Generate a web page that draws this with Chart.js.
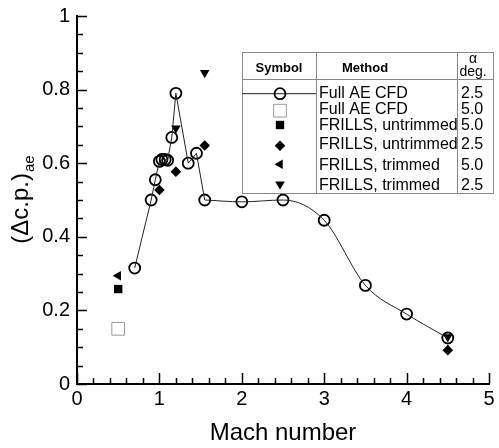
<!DOCTYPE html>
<html>
<head>
<meta charset="utf-8">
<script src="https://cdn.jsdelivr.net/npm/chart.js@4.4.1/dist/chart.umd.min.js"></script>
<style>
  html, body { margin: 0; padding: 0; background: #fff; }
  #wrap { width: 499px; height: 448px; position: relative; }
</style>
</head>
<body>
<div id="wrap"><canvas id="chart" width="499" height="448"></canvas></div>
<script>
/* ── Delta c.p. vs Mach number, Full AE CFD vs FRILLS ── */
const FONT = "'Liberation Sans', Arial, Helvetica, sans-serif";

// Full AE CFD, alpha 2.5 (circles + line)
const cfdMach25 = [0.7, 0.9, 0.95, 1.0, 1.03, 1.07, 1.1, 1.15, 1.2, 1.35, 1.45, 1.55, 2.0, 2.5, 3.0, 3.5, 4.0, 4.5];
const cfdDcp25  = [0.315, 0.5, 0.555, 0.605, 0.61, 0.61, 0.608, 0.67, 0.79, 0.6, 0.627, 0.5, 0.495, 0.5, 0.445, 0.268, 0.19, 0.125];
const SPLIT = 11; // straight segments up to M=1.55, smooth curve after

// Full AE CFD, alpha 5.0 (open square)
const cfdMach50 = [0.5];
const cfdDcp50  = [0.15];
// FRILLS untrimmed
const untrimMach50 = [0.5];
const untrimDcp50  = [0.258];
const untrimMach25 = [1.0, 1.2, 1.55, 4.5];
const untrimDcp25  = [0.527, 0.577, 0.648, 0.092];
// FRILLS trimmed
const trimMach50 = [0.5];
const trimDcp50  = [0.294];
const trimMach25 = [1.2, 1.55, 4.5];
const trimDcp25  = [0.695, 0.846, 0.128];

const xTicks = [0, 1, 2, 3, 4, 5];
const yTicks = [0, 0.2, 0.4, 0.6, 0.8, 1];

const legendMethods = ['Full AE CFD', 'Full AE CFD', 'FRILLS, untrimmed', 'FRILLS, untrimmed', 'FRILLS, trimmed', 'FRILLS, trimmed'];
const legendAlphas  = ['2.5', '5.0', '5.0', '2.5', '5.0', '2.5'];

const pts = (xs, ys) => xs.map((x, i) => ({ x, y: ys[i] }));
const fmt = v => String(+Number(v).toFixed(2));

const SYM = {
  circle:  { pointStyle: 'circle',  radius: 5.5, rotation: 0,   borderWidth: 1.8, fill: 'rgba(0,0,0,0)', stroke: '#000' },
  openSq:  { pointStyle: 'rect',    radius: 9,   rotation: 0,   borderWidth: 1,   fill: '#fff', stroke: '#999' },
  fillSq:  { pointStyle: 'rect',    radius: 5.9, rotation: 0,   borderWidth: 0,   fill: '#000', stroke: '#000' },
  diamond: { pointStyle: 'rectRot', radius: 5.3, rotation: 0,   borderWidth: 0,   fill: '#000', stroke: '#000' },
  triLeft: { pointStyle: 'triangle',radius: 5.5, rotation: -90, borderWidth: 0,   fill: '#000', stroke: '#000' },
  triDown: { pointStyle: 'triangle',radius: 5.5, rotation: 180, borderWidth: 0,   fill: '#000', stroke: '#000' }
};
const legendSyms = ['circle', 'openSq', 'fillSq', 'diamond', 'triLeft', 'triDown'];

function markerSet(label, data, s) {
  const m = SYM[s];
  return {
    label, data, showLine: false,
    pointStyle: m.pointStyle, pointRadius: m.radius, pointHoverRadius: m.radius,
    pointRotation: m.rotation, pointBorderWidth: m.borderWidth,
    pointBackgroundColor: m.fill, pointBorderColor: m.stroke,
    backgroundColor: m.fill, borderColor: m.stroke
  };
}

// inward tick marks like the original plot
const axisTicks = {
  id: 'axisTicks',
  afterDraw(chart) {
    const { ctx, chartArea: a, scales: { x, y } } = chart;
    ctx.save();
    ctx.strokeStyle = '#000';
    ctx.lineWidth = 1.5;
    ctx.beginPath();
    for (let i = 0; i <= 25; i++) {
      const v = i * 0.2, px = Math.round(x.getPixelForValue(v)) + 0.5;
      const len = i % 5 === 0 ? 11 : 6;
      ctx.moveTo(px, a.bottom); ctx.lineTo(px, a.bottom - len);
    }
    for (let i = 0; i <= 20; i++) {
      const v = i * 0.05, py = Math.round(y.getPixelForValue(v)) + 0.5;
      const len = i % 4 === 0 ? 10 : 6;
      ctx.moveTo(a.left, py); ctx.lineTo(a.left + len, py);
    }
    ctx.stroke();

    // y title with subscript
    const cy = (a.top + a.bottom) / 2;
    ctx.translate(21, cy);
    ctx.rotate(-Math.PI / 2);
    ctx.fillStyle = '#000';
    ctx.textBaseline = 'middle';
    ctx.textAlign = 'left';
    ctx.font = '24px ' + FONT;
    const main = '(\u0394c.p.)';
    const w1 = ctx.measureText(main).width;
    ctx.font = '15px ' + FONT;
    const w2 = ctx.measureText('ae').width;
    const x0 = -(w1 + w2) / 2;
    ctx.font = '24px ' + FONT;
    ctx.fillText(main, x0, 0);
    ctx.font = '15px ' + FONT;
    ctx.fillText('ae', x0 + w1 + 1, 9);
    ctx.restore();
  }
};

// table-style legend
const tableLegend = {
  id: 'tableLegend',
  afterDatasetsDraw(chart) {
    const ctx = chart.ctx;
    const L = 242, T = 52, R = 493, B = 193, c1 = 316, c2 = 457, hB = 79;
    const rowY = [93.7, 110, 126, 144.5, 166, 186];
    const symY = [93.7, 110.7, 125, 145.7, 164.3, 184.3];
    ctx.save();
    ctx.fillStyle = '#fff';
    ctx.fillRect(L, T, R - L, B - T);
    ctx.strokeStyle = '#888';
    ctx.lineWidth = 1;
    ctx.strokeRect(L + 0.5, T + 0.5, R - L, B - T);
    ctx.beginPath();
    ctx.moveTo(c1 + 0.5, T); ctx.lineTo(c1 + 0.5, B);
    ctx.moveTo(c2 + 0.5, T); ctx.lineTo(c2 + 0.5, B);
    ctx.moveTo(L, hB + 0.5); ctx.lineTo(R, hB + 0.5);
    ctx.stroke();

    ctx.fillStyle = '#000';
    ctx.textBaseline = 'middle';
    ctx.textAlign = 'center';
    ctx.font = 'bold 13px ' + FONT;
    ctx.fillText('Symbol', 279, 68);
    ctx.fillText('Method', 365, 68);
    ctx.font = '14px ' + FONT;
    ctx.fillText('\u03b1', 473, 59);
    ctx.fillText('deg.', 473, 72);

    ctx.textAlign = 'left';
    ctx.font = '16px ' + FONT;
    legendMethods.forEach((m, i) => {
      ctx.fillText(m, 319, rowY[i]);
      ctx.fillText(legendAlphas[i], 461, rowY[i]);
    });

    // line through the first symbol
    ctx.strokeStyle = '#222';
    ctx.lineWidth = 1;
    ctx.beginPath();
    ctx.moveTo(L, rowY[0]); ctx.lineTo(c1, rowY[0]);
    ctx.stroke();

    legendSyms.forEach((s, i) => {
      const m = SYM[s];
      ctx.fillStyle = m.fill;
      ctx.strokeStyle = m.stroke;
      ctx.lineWidth = m.borderWidth;
      Chart.helpers.drawPoint(ctx, {
        pointStyle: m.pointStyle, rotation: m.rotation,
        radius: m.radius, borderWidth: m.borderWidth
      }, 280, symY[i]);
    });
    ctx.restore();
  }
};

new Chart(document.getElementById('chart'), {
  type: 'scatter',
  data: {
    datasets: [
      { label: 'cfd line a', data: pts(cfdMach25.slice(0, SPLIT + 1), cfdDcp25.slice(0, SPLIT + 1)),
        showLine: true, pointRadius: 0, borderColor: '#222', borderWidth: 1, tension: 0 },
      { label: 'cfd line b', data: pts(cfdMach25.slice(SPLIT), cfdDcp25.slice(SPLIT)),
        showLine: true, pointRadius: 0, borderColor: '#222', borderWidth: 1, cubicInterpolationMode: 'monotone' },
      markerSet('Full AE CFD 2.5', pts(cfdMach25, cfdDcp25), 'circle'),
      markerSet('Full AE CFD 5.0', pts(cfdMach50, cfdDcp50), 'openSq'),
      markerSet('FRILLS, untrimmed 5.0', pts(untrimMach50, untrimDcp50), 'fillSq'),
      markerSet('FRILLS, untrimmed 2.5', pts(untrimMach25, untrimDcp25), 'diamond'),
      markerSet('FRILLS, trimmed 5.0', pts(trimMach50, trimDcp50), 'triLeft'),
      markerSet('FRILLS, trimmed 2.5', pts(trimMach25, trimDcp25), 'triDown')
    ]
  },
  options: {
    responsive: false,
    animation: false,
    events: [],
    layout: { padding: { top: 16, right: 3, left: 0, bottom: 0 } },
    plugins: { legend: { display: false }, tooltip: { enabled: false } },
    scales: {
      x: {
        type: 'linear', min: 0, max: 5,
        afterBuildTicks: s => { s.ticks = xTicks.map(v => ({ value: v })); },
        afterFit: s => { s.height = 64; s.paddingLeft = 0; s.paddingRight = 0; },
        grid: { display: false, drawTicks: false },
        border: { display: true, color: '#000', width: 2 },
        ticks: { color: '#000', padding: 3, maxRotation: 0, callback: fmt, font: { family: FONT, size: 20 } },
        title: { display: true, text: 'Mach number', color: '#000', padding: { top: 0, bottom: 0 },
                 font: { family: FONT, size: 24 } }
      },
      y: {
        type: 'linear', min: 0, max: 1,
        afterBuildTicks: s => { s.ticks = yTicks.map(v => ({ value: v })); },
        afterFit: s => { s.width = 77; s.paddingTop = 0; s.paddingBottom = 0; },
        grid: { display: false, drawTicks: false },
        border: { display: true, color: '#000', width: 2 },
        ticks: { color: '#000', padding: 7, callback: fmt, font: { family: FONT, size: 20 } }
      }
    }
  },
  plugins: [axisTicks, tableLegend]
});
</script>
</body>
</html>
